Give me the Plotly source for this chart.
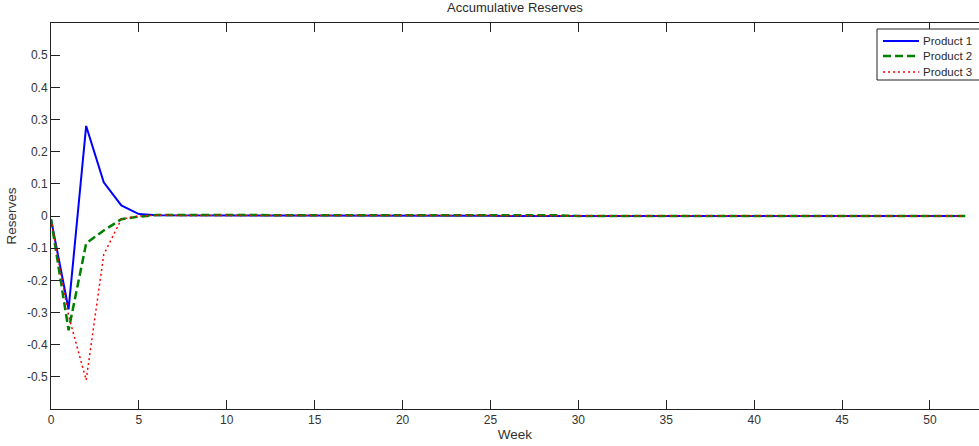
import plotly.graph_objects as go

weeks = list(range(0, 53))

product1 = [-0.01, -0.29, 0.28, 0.105, 0.033, 0.006, 0.002, 0.002, 0.002, 0.002,
            0.002, 0.002, 0.002, 0.002, 0.002, 0.002, 0.002, 0.002, 0.002, 0.003,
            0.003, 0.003, 0.003, 0.003, 0.003, 0.001, 0.0, 0.0, 0.0, 0.0,
            0.0, 0.0, 0.0, 0.0, 0.0, 0.0, 0.0, 0.0, 0.0, 0.0,
            0.0, 0.0, 0.0, 0.0, 0.0, 0.0, 0.0, 0.0, 0.0, 0.0,
            0.0, 0.0, 0.0]

product2 = [-0.01, -0.355, -0.085, -0.045, -0.01, -0.002, 0.003, 0.003, 0.003, 0.003,
            0.003, 0.003, 0.003, 0.003, 0.003, 0.003, 0.003, 0.003, 0.003, 0.003,
            0.003, 0.003, 0.003, 0.003, 0.003, 0.003, 0.003, 0.003, 0.003, 0.002,
            0.0, 0.0, 0.0, 0.0, 0.0, 0.0, 0.0, 0.0, 0.0, 0.0,
            0.0, 0.0, 0.0, 0.0, 0.0, 0.0, 0.0, 0.0, 0.0, 0.0,
            0.0, 0.0, 0.0]

product3 = [-0.01, -0.31, -0.51, -0.12, -0.01, 0.0, 0.002, 0.002, 0.002, 0.002,
            0.002, 0.002, 0.002, 0.002, 0.002, 0.002, 0.002, 0.002, 0.002, 0.002,
            0.002, 0.002, 0.002, 0.002, 0.002, 0.002, 0.002, 0.002, 0.002, 0.001,
            0.0, 0.0, 0.0, 0.0, 0.0, 0.0, 0.0, 0.0, 0.0, 0.0,
            0.0, 0.0, 0.0, 0.0, 0.0, 0.0, 0.0, 0.0, 0.0, 0.0,
            0.0, 0.0, 0.0]

series_names = ["Product 1", "Product 2", "Product 3"]
series_values = [product1, product2, product3]
series_colors = ["#0000FF", "#008000", "#FF0000"]
series_widths = [2.0, 2.5, 1.5]
series_dashes = ["solid", "8px,4px", "2px,3px"]

x_ticks = [0, 5, 10, 15, 20, 25, 30, 35, 40, 45, 50]
y_ticks = [-0.5, -0.4, -0.3, -0.2, -0.1, 0, 0.1, 0.2, 0.3, 0.4, 0.5]
y_tick_text = ["-0.5", "-0.4", "-0.3", "-0.2", "-0.1", "0", "0.1", "0.2", "0.3", "0.4", "0.5"]

font_family = "Liberation Sans, Arial, sans-serif"
text_color = "#2a2a2a"

# figure / plot-area geometry (pixels)
W, H = 979, 446
ML, MR, MT, MB = 51, 0, 23, 37
PW, PH = W - ML - MR, H - MT - MB


def px_x(px):
    return (px - ML) / PW


def px_y(py):
    return (H - MB - py) / PH


fig = go.Figure()
for name, vals, col, wd, ds in zip(series_names, series_values, series_colors,
                                    series_widths, series_dashes):
    fig.add_trace(go.Scatter(x=weeks, y=vals, mode="lines", name=name,
                             line=dict(color=col, width=wd, dash=ds),
                             showlegend=False))

# MATLAB-style legend box (drawn with shapes/annotations for compact spacing)
shapes = [dict(type="rect", xref="paper", yref="paper",
               x0=px_x(877), x1=px_x(982), y0=px_y(80), y1=px_y(29),
               line=dict(color="#222222", width=1), fillcolor="white", layer="above")]
annotations = []
row_y = [41, 56, 72]
for i, name in enumerate(series_names):
    shapes.append(dict(type="line", xref="paper", yref="paper",
                       x0=px_x(883), x1=px_x(919), y0=px_y(row_y[i]), y1=px_y(row_y[i]),
                       line=dict(color=series_colors[i], width=series_widths[i],
                                 dash=series_dashes[i]),
                       layer="above"))
    annotations.append(dict(text=name, xref="paper", yref="paper",
                            x=px_x(921), y=px_y(row_y[i]), xanchor="left", yanchor="middle",
                            showarrow=False,
                            font=dict(family=font_family, size=11.5, color=text_color)))

axis_common = dict(
    showgrid=False, zeroline=False, showline=True, linecolor="#222222", linewidth=1,
    ticks="inside", ticklen=9, tickcolor="#222222", tickwidth=1,
    tickfont=dict(family=font_family, size=12, color="#333333"),
)

fig.update_layout(
    width=W, height=H,
    margin=dict(l=ML, r=MR, t=MT, b=MB, autoexpand=False),
    paper_bgcolor="white", plot_bgcolor="white",
    font=dict(family=font_family, size=12, color=text_color),
    title=dict(text="Accumulative Reserves", x=0.526, xanchor="center",
               y=0.994, yanchor="top", font=dict(size=13, color=text_color)),
    xaxis=dict(range=[0, 52.79], tickvals=x_ticks, mirror="allticks",
               title=dict(text="Week", standoff=3, font=dict(size=13.5, color="#333333")),
               **axis_common),
    yaxis=dict(range=[-0.6, 0.6], tickvals=y_ticks, ticktext=y_tick_text, mirror=False,
               title=dict(text="Reserves", standoff=7, font=dict(size=13.5, color="#333333")),
               **axis_common),
    shapes=shapes,
    annotations=annotations,
    showlegend=False,
)

fig.write_html("out.html")
